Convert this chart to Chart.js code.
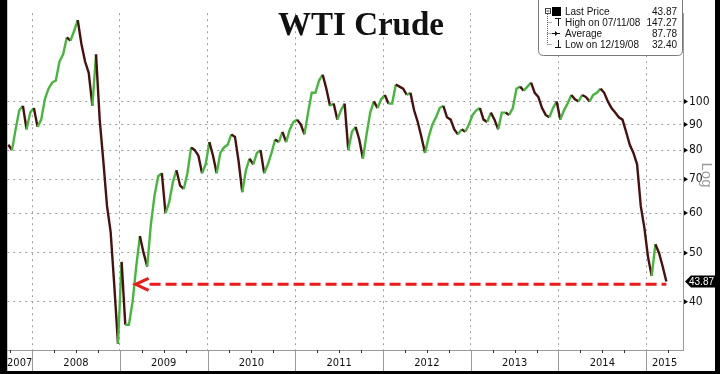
<!DOCTYPE html>
<html>
<head>
<meta charset="utf-8">
<script src="https://cdn.jsdelivr.net/npm/chart.js@4.4.1/dist/chart.umd.min.js"></script>
<style>
  html, body { margin: 0; padding: 0; background: #000; }
</style>
</head>
<body>
<canvas id="chart" width="720" height="374"></canvas>
<script>
// WTI crude, one reading per half month (1st half, 2nd half)
// 2007 starts with the 2nd half of September
const wti2007 = [82, 80, 88, 96, 98, 88, 95];
const wti2008 = [97, 89, 92, 101, 106, 109, 110, 120, 124, 134, 132, 138,
                 145, 130, 120, 114, 98, 124, 92, 76, 62, 55, 43, 33];
const wti2009 = [48, 36, 36, 40, 47, 54, 50, 47, 57, 65, 71, 72,
                 60, 63, 69, 73, 68, 67, 72, 81, 80, 78, 72, 75];
const wti2010 = [83, 78, 72, 79, 81, 82, 86, 85, 76, 66, 73, 77,
                 75, 79, 80, 72, 75, 79, 84, 83, 87, 83, 88, 91];
const wti2011 = [92, 90, 86, 95, 104, 104, 110, 113, 106, 98, 99, 92,
                 96, 99, 80, 87, 89, 84, 77, 86, 95, 100, 97, 101];
const wti2012 = [103, 99, 99, 108, 107, 106, 103, 104, 96, 91, 85, 79,
                 85, 90, 93, 97, 98, 93, 92, 88, 86, 88, 87, 90];
const wti2013 = [94, 96, 97, 92, 91, 95, 92, 88, 95, 95, 94, 97,
                 106, 107, 105, 107, 109, 104, 102, 97, 94, 93, 97, 100];
const wti2014 = [92, 96, 99, 103, 101, 100, 103, 102, 100, 103, 104, 106,
                 104, 100, 97, 95, 93, 92, 87, 82, 79, 75, 62, 56];
const wti2015 = [49, 45, 52, 50, 47, 43.87];

const yearLabels = ['2007', '2008', '2009', '2010', '2011', '2012', '2013', '2014', '2015'];
const priceTicks = [40, 50, 60, 70, 80, 90, 100];

const legendLabels = ['Last Price', 'High on 07/11/08', 'Average', 'Low on 12/19/08'];
const legendValues = ['43.87', '147.27', '87.78', '32.40'];

const lastPrice = 43.87;
const arrowLevel = 43.3;     // red dashed support line
const arrowFrom = 2009.18;   // arrow tip (in years)

const UP = '#45b83c';
const DOWN = '#4a1010';
const GRID = '#9d9d9d';

// build the points: x in fractional years, middle of each half month
const series = [
  [2007, 17, wti2007], [2008, 0, wti2008], [2009, 0, wti2009], [2010, 0, wti2010],
  [2011, 0, wti2011], [2012, 0, wti2012], [2013, 0, wti2013], [2014, 0, wti2014],
  [2015, 0, wti2015]
];
const points = [];
series.forEach(([yr, first, vals]) => {
  vals.forEach((v, i) => points.push({ x: yr + (first + i + 0.5) / 24, y: v }));
});

const X_MIN = 2007.717, X_MAX = 2015.419;
const narrow = '"Liberation Sans Narrow", "DejaVu Sans Condensed", Arial, sans-serif';
const sans = '"Liberation Sans", Arial, sans-serif';

function line(c, x1, y1, x2, y2) {
  c.beginPath();
  c.moveTo(x1, y1);
  c.lineTo(x2, y2);
  c.stroke();
}

const frame = {
  id: 'frame',
  beforeDraw(chart) {
    const c = chart.ctx, xs = chart.scales.x, ys = chart.scales.y;
    c.save();
    c.fillStyle = '#000';
    c.fillRect(0, 0, chart.width, chart.height);
    c.fillStyle = '#fff';
    c.fillRect(chart.chartArea.left, 0, ys.right - chart.chartArea.left, xs.bottom);
    c.restore();
  },
  afterDraw(chart) {
    const c = chart.ctx, xs = chart.scales.x, ys = chart.scales.y;
    const area = chart.chartArea;
    c.save();

    // year separators and quarter ticks under the plot
    c.lineWidth = 1;
    c.strokeStyle = '#9a9a9a';
    for (let yr = Math.ceil(X_MIN); yr <= X_MAX; yr++) {
      const px = Math.round(xs.getPixelForValue(yr)) + 0.5;
      line(c, px, xs.top, px, xs.bottom);
    }
    c.strokeStyle = '#333';
    for (let q = Math.ceil(X_MIN * 4); q <= X_MAX * 4; q++) {
      if (q % 4 === 0) continue;
      const px = Math.round(xs.getPixelForValue(q / 4)) + 0.5;
      line(c, px, xs.top, px, xs.top + 3);
    }

    // small arrow markers on the right axis
    c.fillStyle = '#000';
    priceTicks.forEach(v => {
      const py = ys.getPixelForValue(v);
      c.beginPath();
      c.moveTo(ys.left + 1, py - 2.5);
      c.lineTo(ys.left + 5, py);
      c.lineTo(ys.left + 1, py + 2.5);
      c.closePath();
      c.fill();
    });

    // "Log" label
    c.save();
    c.translate(ys.left + 23, 175);
    c.rotate(Math.PI / 2);
    c.fillStyle = '#9a9a9a';
    c.font = '15px ' + sans;
    c.textAlign = 'center';
    c.textBaseline = 'middle';
    c.fillText('Log', 0, 0);
    c.restore();

    // last price tag
    const ty = ys.getPixelForValue(lastPrice);
    c.fillStyle = '#000';
    c.beginPath();
    c.moveTo(ys.left + 2, ty);
    c.lineTo(ys.left + 8, ty - 6);
    c.lineTo(ys.right, ty - 6);
    c.lineTo(ys.right, ty + 6);
    c.lineTo(ys.left + 8, ty + 6);
    c.closePath();
    c.fill();
    c.fillStyle = '#fff';
    c.font = '10px ' + sans;
    c.textAlign = 'left';
    c.textBaseline = 'middle';
    c.fillText(lastPrice.toFixed(2), ys.left + 6, ty + 0.5);

    // red dashed arrow back to the 2009 low
    const ay = ys.getPixelForValue(arrowLevel);
    const ax0 = xs.getPixelForValue(arrowFrom);
    const ax1 = xs.getPixelForValue(points[points.length - 1].x);
    c.strokeStyle = '#f01818';
    c.lineWidth = 3;
    c.setLineDash([11, 5]);
    line(c, ax0 + 14, ay, ax1, ay);
    c.setLineDash([]);
    c.beginPath();
    c.moveTo(ax0 + 13, ay - 6);
    c.lineTo(ax0, ay);
    c.lineTo(ax0 + 13, ay + 6);
    c.stroke();

    // title
    c.fillStyle = '#111';
    c.font = 'bold 33px "Liberation Serif", "Times New Roman", serif';
    c.textAlign = 'center';
    c.textBaseline = 'alphabetic';
    c.fillText('WTI Crude', chart.width / 2 + 1, 35);

    // legend box
    const lx = 538.5, lr = area.right - 0.5, lb = 55.5, rad = 5;
    c.beginPath();
    c.moveTo(lx, -5);
    c.lineTo(lx, lb - rad);
    c.quadraticCurveTo(lx, lb, lx + rad, lb);
    c.lineTo(lr - rad, lb);
    c.quadraticCurveTo(lr, lb, lr, lb - rad);
    c.lineTo(lr, -5);
    c.closePath();
    c.fillStyle = '#fff';
    c.fill();
    c.strokeStyle = '#7a7a7a';
    c.lineWidth = 1;
    c.stroke();

    const rowY = [11, 22, 33, 44];
    // tree lines
    c.strokeStyle = '#666';
    c.setLineDash([1, 1]);
    line(c, 547.5, 14, 547.5, rowY[3] + 0.5);
    for (let i = 1; i < 4; i++) line(c, 547.5, rowY[i] + 0.5, 552, rowY[i] + 0.5);
    c.setLineDash([]);
    // collapse box + black square
    c.strokeStyle = '#444';
    c.strokeRect(545.5, 8.5, 5, 5);
    line(c, 546.5, 11, 549.5, 11);
    c.fillStyle = '#000';
    c.fillRect(552, 7, 9, 9);
    // high marker
    c.strokeStyle = '#111';
    line(c, 555, 18.5, 561, 18.5);
    line(c, 558.5, 18.5, 558.5, 26);
    // average marker
    line(c, 552, 33.5, 560, 33.5);
    c.beginPath();
    c.moveTo(555, 31);
    c.lineTo(558, 33.5);
    c.lineTo(555, 36);
    c.fillStyle = '#111';
    c.fill();
    // low marker
    line(c, 558.5, 40, 558.5, 47.5);
    line(c, 555, 47.5, 561, 47.5);

    c.fillStyle = '#111';
    c.font = '10px ' + sans;
    c.textBaseline = 'middle';
    legendLabels.forEach((t, i) => {
      c.textAlign = 'left';
      c.fillText(t, 565, rowY[i] + 1);
      c.textAlign = 'right';
      c.fillText(legendValues[i], 677, rowY[i] + 1);
    });

    c.restore();
  }
};

new Chart(document.getElementById('chart').getContext('2d'), {
  type: 'line',
  data: {
    datasets: [{
      data: points,
      borderWidth: 2.4,
      borderColor: UP,
      pointRadius: 0,
      tension: 0,
      segment: {
        borderColor: c => (c.p1.parsed.y >= c.p0.parsed.y ? UP : DOWN)
      }
    }]
  },
  options: {
    responsive: false,
    animation: false,
    layout: { padding: { left: 3, right: 5, top: 0, bottom: 3 } },
    plugins: {
      legend: { display: false },
      tooltip: { enabled: false },
      title: { display: false }
    },
    scales: {
      x: {
        type: 'linear',
        min: X_MIN,
        max: X_MAX,
        afterBuildTicks: scale => {
          const ticks = [];
          yearLabels.forEach(label => {
            const yr = Number(label);
            const a = Math.max(yr, X_MIN), b = Math.min(yr + 1, X_MAX);
            ticks.push({ value: (a + b) / 2 });
            if (yr > X_MIN && yr < X_MAX) ticks.push({ value: yr });
          });
          scale.ticks = ticks.sort((p, q) => p.value - q.value);
        },
        afterFit: scale => { scale.height = 21; },
        ticks: {
          autoSkip: false,
          maxRotation: 0,
          padding: 7,
          color: '#111',
          font: { family: narrow, size: 11 },
          callback: v => (Number.isInteger(v) ? '' : String(Math.floor(v)))
        },
        grid: {
          drawTicks: false,
          color: c => (c.tick && Number.isInteger(c.tick.value) ? GRID : 'rgba(0,0,0,0)')
        },
        border: { color: '#9a9a9a', dash: [2, 4] }
      },
      y: {
        type: 'logarithmic',
        position: 'right',
        min: 32.07,
        max: 149.7,
        afterBuildTicks: scale => {
          scale.ticks = priceTicks.map(v => ({ value: v }));
        },
        afterFit: scale => { scale.width = 32; },
        ticks: {
          padding: 6,
          color: '#111',
          font: { family: narrow, size: 12 },
          callback: v => String(v)
        },
        grid: { drawTicks: false, color: GRID },
        border: { color: '#9a9a9a', dash: [2, 4] }
      }
    }
  },
  plugins: [frame]
});
</script>
</body>
</html>
